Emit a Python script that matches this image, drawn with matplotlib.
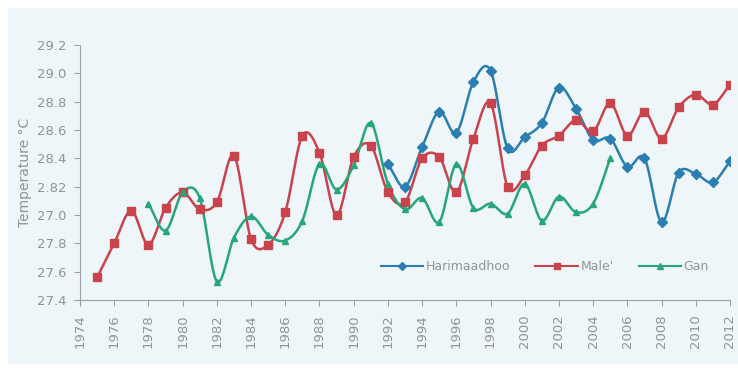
import numpy as np
import matplotlib.pyplot as plt
from matplotlib.lines import Line2D
from matplotlib.patches import Rectangle

# dados
yearsMale = list(range(1975, 2013))
male = [27.56, 27.80, 28.03, 27.79, 28.05, 28.16, 28.04, 28.09, 28.42, 27.83,
        27.79, 28.02, 28.56, 28.44, 28.00, 28.41, 28.49, 28.16, 28.09, 28.40,
        28.41, 28.16, 28.54, 28.79, 28.20, 28.28, 28.49, 28.56, 28.67, 28.59,
        28.79, 28.56, 28.73, 28.54, 28.76, 28.85, 28.78, 28.92]

yearsHani = list(range(1992, 2013))
hani = [28.36, 28.20, 28.48, 28.73, 28.58, 28.94, 29.02, 28.47, 28.55, 28.65,
        28.90, 28.75, 28.53, 28.54, 28.34, 28.40, 27.95, 28.30, 28.29, 28.23,
        28.38]

yearsGan = list(range(1978, 2006))
gan = [28.08, 27.89, 28.16, 28.12, 27.53, 27.84, 27.99, 27.86, 27.82, 27.96,
       28.36, 28.18, 28.35, 28.65, 28.22, 28.04, 28.12, 27.95, 28.36, 28.05,
       28.08, 28.01, 28.22, 27.96, 28.13, 28.02, 28.08, 28.40]

yTicks = [27.4, 27.6, 27.8, 28.0, 28.2, 28.4, 28.6, 28.8, 29.0, 29.2]
yLabels = ['27.4', '27.6', '27.8', '27.0', '2.82', '28.4', '28.6', '28.8', '29.0', '29.2']
xTicks = list(range(1974, 2013, 2))

cBlue = '#2b7eb0'
cRed = '#c8434b'
cGreen = '#27a679'
cGray = '#8f9499'
bg = '#eef6fa'


#suaviza a linha (tipo excel) so para desenhar
def suave(x, y, n=20):
    x = np.asarray(x, float)
    y = np.asarray(y, float)
    px = np.concatenate([[2*x[0]-x[1]], x, [2*x[-1]-x[-2]]])
    py = np.concatenate([[2*y[0]-y[1]], y, [2*y[-1]-y[-2]]])
    xs, ys = [], []
    t = np.linspace(0, 1, n, endpoint=False)
    for i in range(1, len(px)-2):
        for p, out in ((px, xs), (py, ys)):
            p0, p1, p2, p3 = p[i-1], p[i], p[i+1], p[i+2]
            out.extend(0.5*((2*p1) + (-p0+p2)*t + (2*p0-5*p1+4*p2-p3)*t**2
                            + (-p0+3*p1-3*p2+p3)*t**3))
    xs.append(x[-1])
    ys.append(y[-1])
    return xs, ys


fig = plt.figure(figsize=(7.38, 3.72), dpi=100, facecolor='white')
fig.patches.append(Rectangle((8/738, 8/372), 1, 1-16/372, transform=fig.transFigure,
                             facecolor=bg, edgecolor='none', zorder=-1))
ax = fig.add_axes([80/738, 72/372, 650/738, 255/372])
ax.set_facecolor(bg)

series = [(yearsHani, hani, cBlue, 'D', 5, "Harimaadhoo"),
          (yearsMale, male, cRed, 's', 6, "Male'"),
          (yearsGan, gan, cGreen, '^', 5, "Gan")]

handles = []
for xs, ys, c, m, ms, nome in series:
    sx, sy = suave(xs, ys)
    ax.plot(sx, sy, color=c, lw=1.8, zorder=2)
    ax.plot(xs, ys, ls='none', marker=m, ms=ms, color=c, zorder=3)
    handles.append(Line2D([], [], color=c, lw=1.5, marker=m, ms=ms-1, label=nome))

ax.set_xlim(1974, 2012)
ax.set_ylim(27.4, 29.2)
ax.set_xticks(xTicks)
ax.set_xticklabels([str(a) for a in xTicks], rotation=90)
ax.set_yticks(yTicks)
ax.set_yticklabels(yLabels)
ax.tick_params(colors='#9aa0a5', labelcolor=cGray, labelsize=9.5, length=4)
ax.tick_params(axis='x', pad=6)
ax.tick_params(axis='y', pad=6)

for s in ['top', 'right']:
    ax.spines[s].set_visible(False)
for s in ['left', 'bottom']:
    ax.spines[s].set_color('#9aa0a5')

ax.set_ylabel("Temperature °C", color=cGray, fontsize=10, labelpad=3)

ax.legend(handles=handles, loc='lower right', bbox_to_anchor=(0.985, 0.06), ncol=3,
          frameon=False, fontsize=9, labelcolor=cGray, handlelength=3.4,
          columnspacing=2.0, handletextpad=0.2)

fig.savefig('out.png', dpi=100, facecolor='white')
